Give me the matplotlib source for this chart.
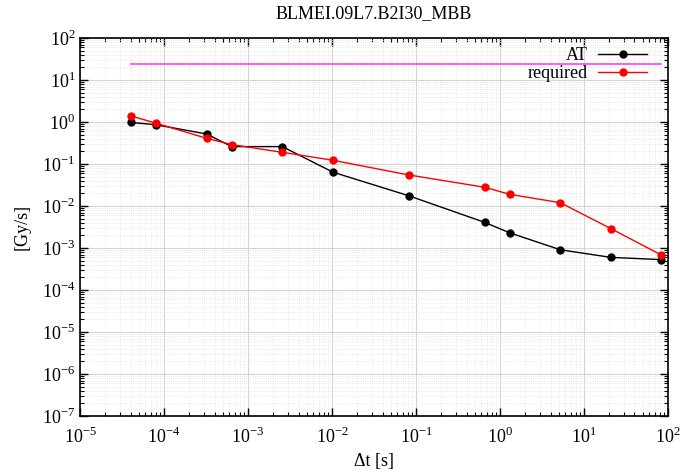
import numpy as np
import matplotlib
matplotlib.use("Agg")
import matplotlib.pyplot as plt
from matplotlib.ticker import LogLocator, NullFormatter

plt.rcParams['font.family'] = ['Liberation Serif', 'DejaVu Serif']
plt.rcParams['mathtext.fontset'] = 'custom'
plt.rcParams['mathtext.rm'] = 'Liberation Serif'

# running sums (s)
dt = [4e-5, 8e-5, 3.2e-4, 6.4e-4, 2.56e-3, 1.024e-2, 8.192e-2,
      0.655, 1.31, 5.24, 20.97, 83.89]
at_vals = [0.98, 0.86, 0.52, 0.26, 0.26, 0.064, 0.0176,
           0.0041, 0.0023, 9.1e-4, 6.0e-4, 5.3e-4]
required = [1.4, 0.94, 0.41, 0.29, 0.19, 0.123, 0.055,
            0.028, 0.019, 0.012, 0.0029, 6.8e-4]
limit_x = [4e-5, 83.89]
limit_y = [23.5, 23.5]
x_exp = list(range(-5, 3))
y_exp = list(range(-7, 3))
title = "BLMEI.09L7.B2I30_MBB"

fig = plt.figure(figsize=(6.85, 4.75), dpi=100)
ax = fig.add_axes([0.117, 0.124, 0.858, 0.796])

ax.plot(limit_x, limit_y, color='#ff40ff', lw=1.2)
ax.plot(dt, at_vals, color='black', lw=1, marker='o', ms=5, label='AT')
ax.plot(dt, required, color='red', lw=1, marker='o', ms=5, label='required')

ax.set_xscale('log')
ax.set_yscale('log')
ax.set_xticks([10.0 ** e for e in x_exp], [r'$10^{%d}$' % e for e in x_exp])
ax.set_yticks([10.0 ** e for e in y_exp], [r'$10^{%d}$' % e for e in y_exp])
ax.xaxis.set_minor_locator(LogLocator(base=10, subs=np.arange(2, 10), numticks=20))
ax.yaxis.set_minor_locator(LogLocator(base=10, subs=np.arange(2, 10), numticks=20))
ax.xaxis.set_minor_formatter(NullFormatter())
ax.yaxis.set_minor_formatter(NullFormatter())
ax.set_xlim(1e-5, 1e2)
ax.set_ylim(1e-7, 1e2)

ax.grid(True, which='major', color='#d4d4d4', lw=0.8)
ax.grid(True, which='minor', color='#e2e2e2', lw=0.6, ls=':')
ax.set_axisbelow(True)

ax.tick_params(which='both', direction='in', top=True, right=True, labelsize=13)
ax.tick_params(which='major', length=6, width=1)
ax.tick_params(which='minor', length=3, width=0.8)
ax.tick_params(axis='x', pad=8)
for s in ax.spines.values():
    s.set_linewidth(1.2)

ax.set_xlabel('Δt [s]', fontsize=13)
ax.set_ylabel('[Gy/s]', fontsize=13, labelpad=8)
ax.set_title(title, fontsize=13, pad=14)

ax.legend(loc='upper right', frameon=False, markerfirst=False, fontsize=13,
          handlelength=2.7, handletextpad=0.6, borderaxespad=0.1,
          labelspacing=0.05, bbox_to_anchor=(0.98, 1.0))

fig.savefig('out.png', dpi=100)
